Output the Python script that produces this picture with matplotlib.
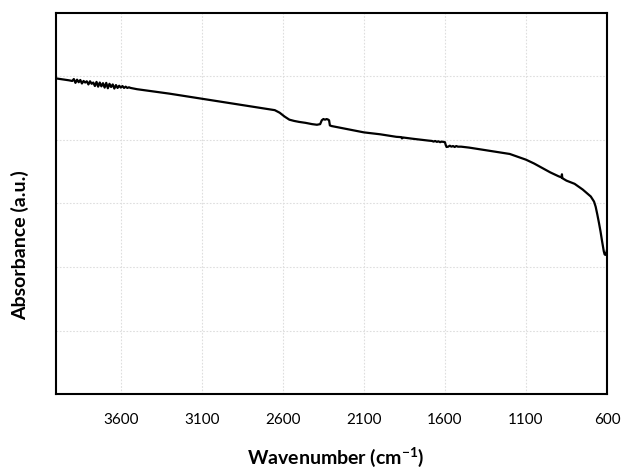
import matplotlib
matplotlib.use("Agg")
import matplotlib.pyplot as plt

wavenumber = [4000, 3960, 3920, 3900, 3890, 3880, 3870, 3860, 3850, 3840, 3830, 3820, 3810,
              3800, 3790, 3780, 3770, 3760, 3750, 3740, 3730, 3720, 3710, 3700, 3690, 3680,
              3670, 3660, 3650, 3640, 3630, 3620, 3610, 3600, 3590, 3580, 3570, 3560, 3550,
              3540, 3500, 3400, 3300, 3200, 3100, 3000, 2900, 2800, 2700, 2650, 2620, 2590,
              2560, 2530, 2500, 2460, 2420, 2390, 2370, 2360, 2350, 2340, 2330, 2320, 2315,
              2310, 2300, 2200, 2100, 2000, 1900, 1870, 1865, 1860, 1800, 1700, 1680, 1670,
              1660, 1650, 1640, 1630, 1620, 1610, 1600, 1595, 1590, 1580, 1570, 1560, 1550,
              1540, 1530, 1520, 1500, 1450, 1400, 1300, 1200, 1100, 1050, 1000, 950, 900,
              880, 878, 876, 870, 850, 800, 750, 700, 680, 670, 660, 650, 640, 630, 620, 615,
              610, 605, 600]
absorbance = [4.97, 4.955, 4.94, 4.93, 4.96, 4.90, 4.95, 4.91, 4.945, 4.89, 4.93, 4.905, 4.925,
              4.875, 4.925, 4.885, 4.905, 4.85, 4.915, 4.84, 4.905, 4.845, 4.895, 4.825, 4.90,
              4.815, 4.885, 4.835, 4.875, 4.81, 4.865, 4.82, 4.855, 4.825, 4.85, 4.82, 4.84,
              4.82, 4.83, 4.82, 4.80, 4.765, 4.73, 4.69, 4.65, 4.61, 4.57, 4.53, 4.49, 4.47,
              4.43, 4.37, 4.32, 4.30, 4.285, 4.27, 4.25, 4.24, 4.25, 4.31, 4.33, 4.32, 4.33,
              4.32, 4.31, 4.23, 4.22, 4.17, 4.12, 4.09, 4.05, 4.045, 4.025, 4.04, 4.02, 3.99,
              3.985, 3.975, 3.985, 3.97, 3.98, 3.965, 3.975, 3.97, 3.965, 3.92, 3.89, 3.895,
              3.91, 3.895, 3.905, 3.89, 3.905, 3.895, 3.895, 3.88, 3.86, 3.82, 3.78, 3.69,
              3.63, 3.56, 3.49, 3.43, 3.41, 3.46, 3.40, 3.39, 3.36, 3.31, 3.22, 3.11, 3.03,
              2.95, 2.83, 2.70, 2.56, 2.40, 2.25, 2.20, 2.19, 2.21, 2.27]
x_ticks = [3600, 3100, 2600, 2100, 1600, 1100, 600]

plt.rcParams['font.family'] = ['Lato', 'DejaVu Sans']
plt.rcParams['mathtext.fontset'] = 'custom'
plt.rcParams['mathtext.rm'] = 'Lato'
plt.rcParams['mathtext.bf'] = 'Lato:bold'

fig = plt.figure(figsize=(6.28, 4.69), dpi=100)
ax = fig.add_axes([56/628, 1-394/469, (607-56)/628, (394-13)/469])

ax.plot(wavenumber, absorbance, color='black', linewidth=1.6, solid_joinstyle='round')

ax.set_xlim(4000, 600)
ax.set_ylim(0, 6)
ax.set_xticks(x_ticks)
ax.set_xticklabels([str(t) for t in x_ticks], fontsize=11)
ax.set_yticks([1, 2, 3, 4, 5])
ax.set_yticklabels([])
ax.tick_params(axis='both', length=0, pad=14)
ax.grid(True, color='#dedede', linestyle=(0, (1.5, 1.5)), linewidth=0.8)
ax.set_axisbelow(True)
for s in ax.spines.values():
    s.set_linewidth(1.5)
    s.set_color('black')

fig.text(336/628, 1-457/469, r'Wavenumber (cm$^{\mathbf{-1}}$)', ha='center', va='center',
         fontsize=14, fontweight='bold')
fig.text(20/628, 1-245/469, 'Absorbance (a.u.)', ha='center', va='center',
         rotation=90, fontsize=14, fontweight='bold')

fig.savefig('out.png', dpi=100)
